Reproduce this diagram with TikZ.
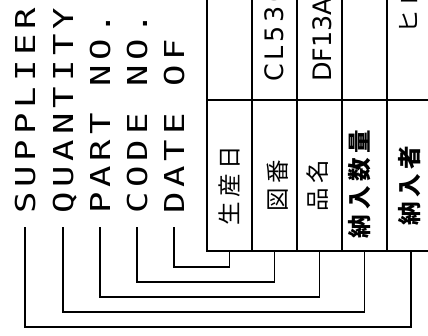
\documentclass[tikz,border=0pt]{standalone}
\usepackage{fontspec}
\newfontfamily\lblfont[FakeStretch=1.3,LetterSpace=18]{DejaVu Sans Mono}
\newfontfamily\tabfont{DejaVu Sans}
\newfontfamily\tabfontls[LetterSpace=15]{DejaVu Sans}
\newfontfamily\jpfont[LetterSpace=20]{Noto Sans CJK JP}
\begin{document}
\begin{tikzpicture}[x=1pt,y=-1pt,
  tbl/.style={line width=2.4pt},
  conn/.style={line width=1.8pt},
  lbl/.style={rotate=90,anchor=west,inner sep=0pt,font=\lblfont\fontsize{27.4}{30}\selectfont,text height=20pt,text depth=0pt},
  cellbox/.style={draw=none,minimum width=45pt,minimum height=151pt,inner sep=0pt},
  jp/.style={rotate=90,inner sep=0pt,font=\jpfont\fontsize{23.5}{26}\selectfont},
  jpb/.style={jp,font=\jpfont\bfseries\fontsize{23.5}{26}\selectfont},
  tab/.style={rotate=90,anchor=west,inner sep=0pt,font=\tabfont\fontsize{25.4}{28}\selectfont,text height=18.5pt,text depth=0pt}
]
\useasboundingbox (0,0) rectangle (428,335);
% table lines
\draw[tbl] (207,-3) -- (207,251) -- (432,251);
\draw[tbl] (207,100) -- (432,100);
\foreach \x in {252,297,342,387} \draw[tbl] (\x,-3) -- (\x,251);
% cells of the lower row
\node[cellbox] (c1) at (229.5,175.5) {};
\node[cellbox] (c2) at (274.5,175.5) {};
\node[cellbox] (c3) at (319.5,175.5) {};
\node[cellbox] (c4) at (364.5,175.5) {};
\node[cellbox,minimum width=48pt] (c5) at (411,175.5) {};
% lower row texts
\node[jp] (j1) at (230,186) {生産日};
\node[jp] (j2) at (278,186) {図番};
\node[jp] (j3) at (318,186) {品名};
\node[jpb] (j4) at (360,184) {納入数量};
\node[jpb] (j5) at (410,186) {納入者};
% upper row texts
\node[tab,font=\tabfontls\fontsize{25.4}{28}\selectfont] (t2) at (274.5,82) {CL536};
\node[tab] (t3) at (322,82) {DF13A};
\node[jp,anchor=west] (t5) at (409,34) {ヒロセ};
% labels
\node[lbl] (sup) at (25,214) {SUPPLIER};
\node[lbl] (qty) at (63,214) {QUANTITY};
\node[lbl] (prt) at (100,214) {PART NO.};
\node[lbl] (cod) at (137,214) {CODE NO.};
\node[lbl] (dat) at (174,214) {DATE OF};
% connectors
\draw[conn] ([yshift=-13pt]dat.west) |- ([yshift=-16pt]c1.south) -- (c1.south);
\draw[conn] ([yshift=-13pt]cod.west) |- ([yshift=-31pt]c2.south) -- (c2.south);
\draw[conn] ([yshift=-13pt]prt.west) |- ([yshift=-46pt]c3.south) -- (c3.south);
\draw[conn] ([yshift=-13pt]qty.west) |- ([yshift=-61pt]c4.south) -- (c4.south);
\draw[conn] ([yshift=-13pt]sup.west) |- ([yshift=-76pt]c5.south) -- (c5.south);
\end{tikzpicture}
\end{document}
